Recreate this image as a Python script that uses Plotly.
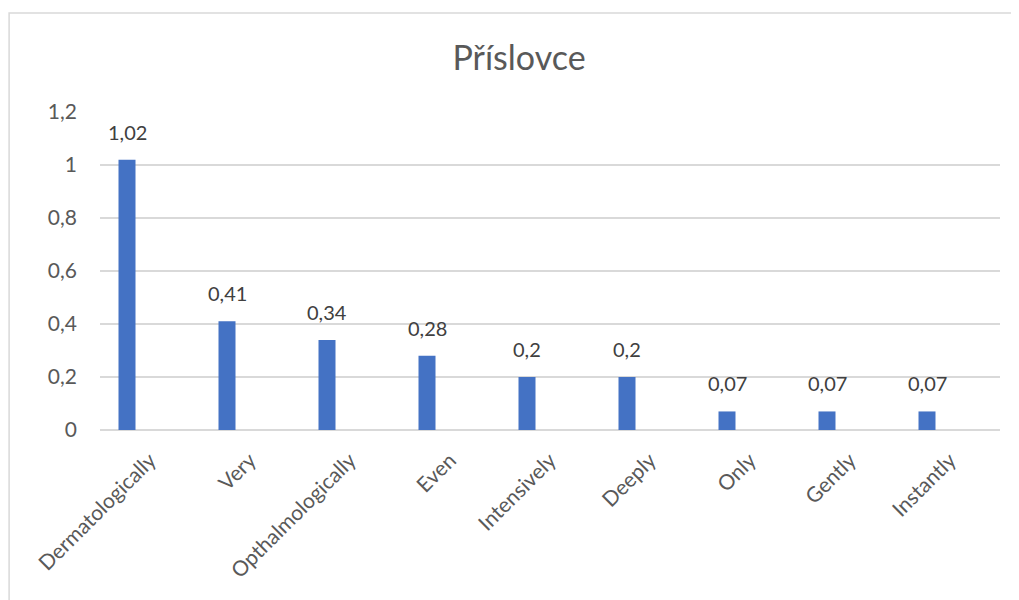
import plotly.graph_objects as go

categories = ["Dermatologically", "Very", "Opthalmologically", "Even", "Intensively",
              "Deeply", "Only", "Gently", "Instantly"]
values = [1.02, 0.41, 0.34, 0.28, 0.2, 0.2, 0.07, 0.07, 0.07]
tick_vals = [0, 0.2, 0.4, 0.6, 0.8, 1.0, 1.2]
tick_text = ["0", "0,2", "0,4", "0,6", "0,8", "1", "1,2"]
labels = [("%g" % v).replace(".", ",") for v in values]

FONT = "Lato"
GREY = "#595959"
BAR_W = 0.17
BAR_SHIFT = -0.23

fig = go.Figure(go.Bar(
    x=categories, y=values,
    marker=dict(color="#4472C4", line=dict(width=0)),
    width=BAR_W, offset=BAR_SHIFT - BAR_W / 2,
))

annotations = [dict(x=i + BAR_SHIFT, y=v, xref="x", yref="y", text=t, showarrow=False,
                    yanchor="bottom", yshift=14,
                    font=dict(family=FONT, size=20, color="#404040"))
               for i, (v, t) in enumerate(zip(values, labels))]

fig.update_layout(
    width=1019, height=600,
    margin=dict(l=92, r=27, t=104, b=178),
    paper_bgcolor="white", plot_bgcolor="white",
    title=dict(text="Příslovce", x=0.5015, xref="container", xanchor="center",
               y=0.9167, yanchor="middle",
               font=dict(family=FONT, size=34, color=GREY)),
    showlegend=False,
    font=dict(family=FONT, color=GREY),
    annotations=annotations,
    xaxis=dict(range=[-0.5, 8.5], tickangle=-45, showgrid=False, showline=False,
               tickfont=dict(family=FONT, size=21, color=GREY), ticks="", ticklabelstandoff=13),
    yaxis=dict(range=[0, 1.2], tickvals=tick_vals, ticktext=tick_text,
               showgrid=True, gridcolor="#d9d9d9", gridwidth=1.5,
               zeroline=True, zerolinecolor="#d9d9d9", zerolinewidth=1.5,
               showline=False, ticks="", ticklabelstandoff=22,
               tickfont=dict(family=FONT, size=21, color=GREY)),
    shapes=[dict(type="rect", xref="paper", yref="paper",
                 x0=-0.101, x1=1.2, y0=-0.7, y1=1.311,
                 line=dict(color="#d9d9d9", width=1.5), layer="below")],
)

fig.write_html("out.html")
